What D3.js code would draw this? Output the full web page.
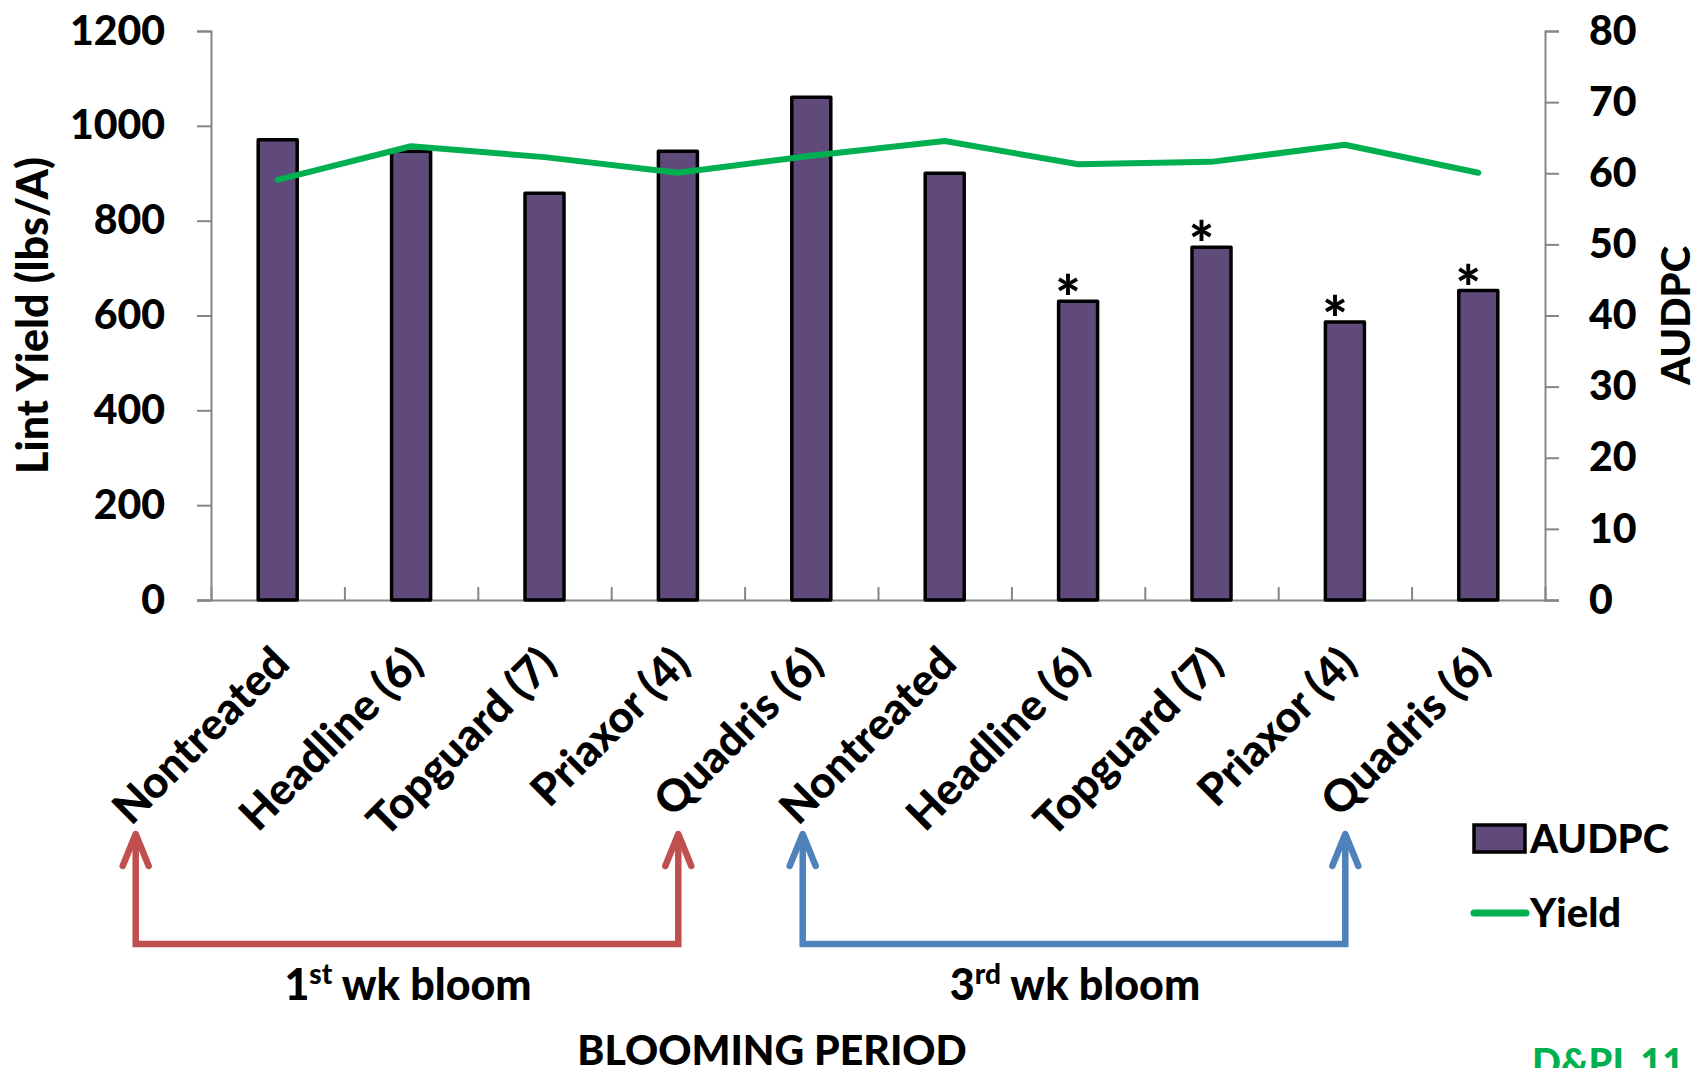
<!DOCTYPE html>
<html>
<head>
<meta charset="utf-8">
<script src="https://cdn.jsdelivr.net/npm/d3@7"></script>
<style>
  body { margin: 0; background: #fff; }
  svg { display: block; font-family: Lato, "Open Sans", sans-serif; font-weight: 900; }
</style>
</head>
<body>
<div id="grafica"></div>
<script>
// Datos
const categories = ["Nontreated", "Headline (6)", "Topguard (7)", "Priaxor (4)", "Quadris (6)",
                    "Nontreated", "Headline (6)", "Topguard (7)", "Priaxor (4)", "Quadris (6)"]
const audpc = [64.7, 63.1, 57.2, 63.1, 70.7, 60.0, 42.0, 49.6, 39.1, 43.5]
const yieldLbs = [886, 957, 934, 901, 937, 968, 919, 924, 960, 901]
const significant = [false, false, false, false, false, false, true, true, true, true]
const leftTicks = [0, 200, 400, 600, 800, 1000, 1200]
const rightTicks = [0, 10, 20, 30, 40, 50, 60, 70, 80]
const periods = [
  { from: 0, to: 4, label: "1", sup: "st", rest: " wk bloom", color: "#c0504d" },
  { from: 5, to: 9, label: "3", sup: "rd", rest: " wk bloom", color: "#4f81bd" }
]

const width = 1698
const height = 1068
const plotLeft = 211, plotRight = 1545, plotTop = 31, plotBottom = 600
const bold = 900

const svg = d3.select('#grafica')
  .append("svg")
  .attr("width", width)
  .attr("height", height)

const x = d3.scaleBand()
  .domain(d3.range(categories.length))
  .range([plotLeft, plotRight])
  .padding(0)

const xEdges = d3.scaleLinear()
  .domain([0, categories.length])
  .range([plotLeft, plotRight])

const yLeft = d3.scaleLinear().domain([0, 1200]).range([plotBottom, plotTop])
const yRight = d3.scaleLinear().domain([0, 80]).range([plotBottom, plotTop])

const axisColor = "#868686"

// ejes
svg.append("g")
  .attr("transform", "translate(" + plotLeft + ",0)")
  .call(d3.axisLeft(yLeft).tickValues(leftTicks).tickSize(14).tickPadding(32).tickFormat(d3.format("d")))

svg.append("g")
  .attr("transform", "translate(" + plotRight + ",0)")
  .call(d3.axisRight(yRight).tickValues(rightTicks).tickSize(14).tickPadding(30))

const gBottom = svg.append("g")
  .attr("transform", "translate(0," + plotBottom + ")")
  .call(d3.axisBottom(xEdges).tickValues(d3.range(categories.length + 1)).tickSize(-13).tickFormat(""))

svg.selectAll(".domain").attr("stroke", axisColor).attr("stroke-width", 2)
svg.selectAll(".tick line").attr("stroke", axisColor).attr("stroke-width", 2)
svg.selectAll(".tick text").attr("fill", "#000").style("font-size", "41px").style("font-family", "Lato, 'Open Sans', sans-serif").style("font-weight", bold)
gBottom.select(".domain").attr("d", "M" + (plotLeft - 14) + ",0.5H" + (plotRight + 14))

// barras AUDPC
svg.selectAll("rect.bar")
  .data(audpc)
  .enter()
  .append("rect")
  .attr("class", "bar")
  .attr("x", (d, i) => x(i) + x.bandwidth() / 2 - 19.5)
  .attr("width", 39)
  .attr("y", d => yRight(d))
  .attr("height", d => plotBottom - yRight(d))
  .attr("fill", "#604a7b")
  .attr("stroke", "#000")
  .attr("stroke-width", 3.5)
  .attr("stroke-linejoin", "round")

// asteriscos
svg.selectAll("text.star")
  .data(audpc.map((d, i) => ({ v: d, i: i })).filter(d => significant[d.i]))
  .enter()
  .append("text")
  .attr("class", "star")
  .attr("x", d => x(d.i) + x.bandwidth() / 2 - 10)
  .attr("y", d => yRight(d.v) + 19)
  .attr("text-anchor", "middle")
  .style("font-size", "60px")
  .text("*")

// linea de rendimiento
const line = d3.line()
  .x((d, i) => x(i) + x.bandwidth() / 2)
  .y(d => yLeft(d))

svg.append("path")
  .datum(yieldLbs)
  .attr("d", line)
  .attr("fill", "none")
  .attr("stroke", "#00b050")
  .attr("stroke-width", 6)
  .attr("stroke-linejoin", "round")
  .attr("stroke-linecap", "round")

// etiquetas de categorias
svg.selectAll("text.cat")
  .data(categories)
  .enter()
  .append("text")
  .attr("class", "cat")
  .attr("text-anchor", "end")
  .attr("transform", (d, i) => "translate(" + (x(i) + x.bandwidth() / 2 + 14) + "," + (plotBottom + 66) + ") rotate(-45)")
  .style("font-size", "44px")
  .text(d => d)

// flechas de periodo
const arrowTop = 834, arrowBottom = 944
periods.forEach(p => {
  const x1 = x(p.from) + x.bandwidth() / 2 - 142
  const x2 = x(p.to) + x.bandwidth() / 2 - 133
  const g = svg.append("g")
    .attr("fill", "none")
    .attr("stroke", p.color)
    .attr("stroke-width", 6.5)
  g.append("path")
    .attr("d", "M" + x1 + "," + (arrowTop + 2) + "V" + arrowBottom + "H" + x2 + "V" + (arrowTop + 2))
  ;[x1, x2].forEach(ax => {
    g.append("path")
      .attr("stroke-linecap", "round")
      .attr("stroke-linejoin", "round")
      .attr("d", "M" + (ax - 13) + "," + (arrowTop + 32) + "L" + ax + "," + arrowTop + "L" + (ax + 13) + "," + (arrowTop + 32))
  })
  const t = svg.append("text")
    .attr("x", (x1 + x2) / 2 + 1)
    .attr("y", 1000)
    .attr("text-anchor", "middle")
    .style("font-size", "43px")
  t.append("tspan").text(p.label)
  t.append("tspan").attr("dy", -16).style("font-size", "28px").text(p.sup)
  t.append("tspan").attr("dy", 16).text(p.rest)
})

// titulos de ejes
svg.append("text")
  .attr("text-anchor", "middle")
  .attr("transform", "translate(48," + (plotTop + plotBottom) / 2 + ") rotate(-90)")
  .style("font-size", "43px")
  .text("Lint Yield (lbs/A)")

svg.append("text")
  .attr("text-anchor", "middle")
  .attr("transform", "translate(1690," + (plotTop + plotBottom) / 2 + ") rotate(-90)")
  .style("font-size", "40px")
  .text("AUDPC")

svg.append("text")
  .attr("x", 772)
  .attr("y", 1065)
  .attr("text-anchor", "middle")
  .style("font-size", "41px")
  .text("BLOOMING PERIOD")

svg.append("text")
  .attr("x", 1532)
  .attr("y", 1076)
  .attr("fill", "#00b050")
  .style("font-size", "38px")
  .text("D&PL 11")

// leyenda
svg.append("rect")
  .attr("x", 1474).attr("y", 825).attr("width", 51).attr("height", 27)
  .attr("fill", "#604a7b").attr("stroke", "#000").attr("stroke-width", 3.5)
svg.append("text").attr("x", 1530).attr("y", 853).style("font-size", "40px").text("AUDPC")
svg.append("line")
  .attr("x1", 1474).attr("x2", 1526).attr("y1", 913).attr("y2", 913)
  .attr("stroke", "#00b050").attr("stroke-width", 7).attr("stroke-linecap", "round")
svg.append("text").attr("x", 1530).attr("y", 927).style("font-size", "40px").text("Yield")
</script>
</body>
</html>
